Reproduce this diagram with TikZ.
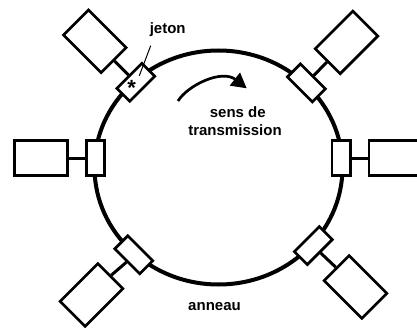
\documentclass[tikz,border=0pt]{standalone}
\usepackage{fontspec}
\setmainfont{Liberation Sans}
\usetikzlibrary{arrows.meta}
\begin{document}
\begin{tikzpicture}[x=1pt,y=1pt,
  ring/.style={line width=4pt},
  tap/.style={draw,fill=white,line width=2.7pt,rectangle,inner sep=0pt,minimum width=18.3pt,minimum height=35.3pt},
  host/.style={draw,fill=white,line width=2.7pt,rectangle,inner sep=0pt,minimum width=53.3pt,minimum height=35.3pt},
  link/.style={line width=3pt},
  lbl/.style={font=\fontsize{15}{18}\selectfont\bfseries,inner sep=0pt}]
\useasboundingbox (0,0) rectangle (417,327);
\draw[ring] (218.5,159.5) ellipse [x radius=124, y radius=117];
% stations
\node[tap,rotate=180] (sL) at (95.5,169) {};
\node[host,rotate=180] (bL) at (41,169) {};
\node[tap,rotate=0] (sR) at (341,169) {};
\node[host,rotate=0] (bR) at (395.5,169) {};
\node[tap,rotate=135] (sTL) at (135.8,244.7) {};
\node[host,rotate=135] (bTL) at (94.8,285.7) {};
\node[tap,rotate=45] (sTR) at (306.4,244.1) {};
\node[host,rotate=45] (bTR) at (346.5,284.6) {};
\node[tap,rotate=225] (sBL) at (133.8,72.2) {};
\node[host,rotate=225] (bBL) at (91.5,32) {};
\node[tap,rotate=-45] (sBR) at (313.3,81.4) {};
\node[host,rotate=-45] (bBR) at (355.5,40) {};
\foreach \s in {L,R,TL,TR,BL,BR}
  \draw[link] (s\s.east) -- (b\s.west);
% token
\node[lbl,anchor=base] (jeton) at (167.7,293.7) {jeton};
\node[font=\fontsize{22}{22}\selectfont\bfseries,inner sep=0pt] (star) at (131.7,239.3) {*};
\coordinate (jA) at (150.7,281.3);
\coordinate (jB) at (139.3,251.3);
\draw[line width=1pt] (jA) -- (jB);
% direction arrow
\coordinate (aS) at (178,226);
\coordinate (aE) at (246.7,238.7);
\draw[line width=2.7pt,-{Triangle[length=15pt,width=16pt]}] (aS) .. controls (188,242) and (222,258) .. (aE);
\node[lbl,anchor=base] (sens) at (237.8,209) {sens de};
\node[lbl,anchor=base] (trans) at (235,191) {transmission};
\node[lbl,anchor=base] (anneau) at (214.5,17) {anneau};
\end{tikzpicture}
\end{document}
